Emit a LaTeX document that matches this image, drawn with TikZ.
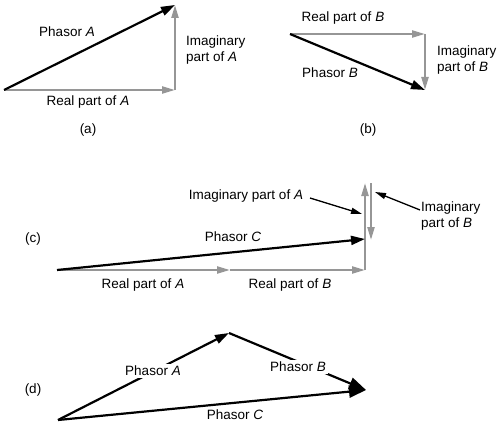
\documentclass[tikz,border=0pt]{standalone}
\usepackage{fontspec}
\setmainfont{Liberation Sans}
\usetikzlibrary{arrows.meta}
\definecolor{vgray}{RGB}{150,150,150}
\tikzset{
  phasor/.style={line width=2.2pt, black, -{Triangle[length=14pt,width=9pt]}},
  bigphasor/.style={line width=2.2pt, black, -{Triangle[length=17pt,width=12pt]}},
  part/.style={line width=2.2pt, vgray, -{Triangle[length=13pt,width=7pt]}},
  lbl/.style={font=\fontsize{13.5}{15.5}\selectfont, inner sep=1pt, align=left},
  lblw/.style={lbl, fill=white, inner sep=2pt},
  pointer/.style={line width=1.3pt, black, -{Triangle[length=11pt,width=6pt]}}
}
\begin{document}
\begin{tikzpicture}[x=1pt,y=-1pt]
\useasboundingbox (0,0) rectangle (500,425);
% (a)
\coordinate (a0) at (4,90);
\coordinate (a1) at (175,90);
\coordinate (a2) at (175,5);
\draw[part] (a0) -- (a1);
\draw[part] (a1) -- (a2);
\draw[phasor] (a0) -- (a2);
\node[lbl] (laA) at (67,32) {Phasor \textit{A}};
\node[lbl, anchor=west] (laI) at (185,50) {Imaginary\\part of \textit{A}};
\node[lbl] (laR) at (88,102) {Real part of \textit{A}};
\node[lbl] (la) at (88,130) {(a)};
% (b)
\coordinate (b0) at (290,34);
\coordinate (b1) at (425,34);
\coordinate (b2) at (425,90);
\draw[part] (b0) -- (b1);
\draw[part] (b1) -- (b2);
\draw[phasor] (b0) -- (b2);
\node[lbl] (lbR) at (343,18) {Real part of \textit{B}};
\node[lbl] (lbB) at (330,73) {Phasor \textit{B}};
\node[lbl, anchor=west] (lbI) at (436,60) {Imaginary\\part of \textit{B}};
\node[lbl] (lb) at (368,130) {(b)};
% (c)
\coordinate (c0) at (57,270);
\coordinate (c1) at (230,270);
\coordinate (c2) at (365,270);
\coordinate (c3) at (365,183);
\coordinate (c4) at (371,183);
\coordinate (c5) at (371,240);
\coordinate (cC) at (365,239);
\draw[part] (c0) -- (c1);
\draw[part] (c1) -- (c2);
\draw[part] (c2) -- (c3);
\draw[part] (c4) -- (c5);
\draw[phasor] (c0) -- (cC);
\node[lbl] (lcIA) at (246,196) {Imaginary part of \textit{A}};
\node[lbl, anchor=west] (lcIB) at (420,216) {Imaginary\\part of \textit{B}};
\coordinate (pA1) at (310,198);
\coordinate (pA2) at (362,214);
\coordinate (pB1) at (420,210);
\coordinate (pB2) at (375,192);
\draw[pointer] (pA1) -- (pA2);
\draw[pointer] (pB1) -- (pB2);
\node[lbl] (lcC) at (233,237) {Phasor \textit{C}};
\node[lbl] (lcRA) at (143,285) {Real part of \textit{A}};
\node[lbl] (lcRB) at (290,285) {Real part of \textit{B}};
\node[lbl] (lc) at (33,239) {(c)};
% (d)
\coordinate (d0) at (58,420);
\coordinate (d1) at (229,333);
\coordinate (d2) at (366,390);
\draw[phasor] (d0) -- (d1);
\draw[bigphasor] (d1) -- (d2);
\draw[bigphasor] (d0) -- (d2);
\node[lblw] (ldA) at (153,371) {Phasor \textit{A}};
\node[lblw] (ldB) at (298,367) {Phasor \textit{B}};
\node[lbl] (ldC) at (235,415) {Phasor \textit{C}};
\node[lbl] (ld) at (33,390) {(d)};
\end{tikzpicture}
\end{document}
